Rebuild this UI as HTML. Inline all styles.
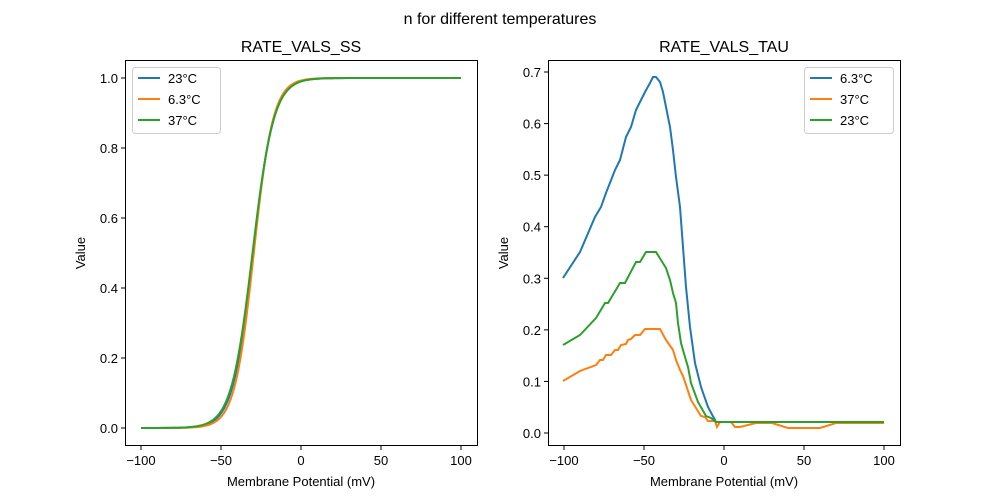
<!DOCTYPE html>
<html><head><meta charset="utf-8"><style>body{margin:0;background:#fff}svg{display:block;font-family:"Liberation Sans","DejaVu Sans",sans-serif}</style></head>
<body>
<svg id="s" width="1000" height="500" viewBox="0 0 1000 500">
<rect width="1000" height="500" fill="#fff"/>
<text x="500" y="24" font-size="16" text-anchor="middle">n for different temperatures</text>
<text x="301" y="52" font-size="16" text-anchor="middle">RATE_VALS_SS</text>
<text x="724" y="52" font-size="16" text-anchor="middle">RATE_VALS_TAU</text>
<g id="L"></g>
<g fill="none" stroke-width="2">
<polyline stroke="#1f77b4" points="563,278 580,252 595,217 601,207 606,193 615,170 620,160 626,137 631,127 636,110 641,100 645,92 650,83 653,77 656,77 660,82 663,92 666,107 670,127 673,150 676,177 680,207 683,247 686,287 690,327 695,363 701,387 708,407 716,422 884,422"/>
<polyline stroke="#ff7f0e" points="563,381 580,371 596,365 600,360 603,360 606,355 611,355 615,350 618,350 621,345 626,344 628,340 631,339 635,335 640,335 645,329 660,329 666,340 673,350 676,360 680,370 683,376 686,385 691,400 696,408 701,416 705,417 708,421 715,421 717,427 720,422 731,422 735,427 740,427 756,423 772,423 788,428 820,428 836,423 884,423"/>
<polyline stroke="#2ca02c" points="563,345 580,335 596,318 605,303 608,303 620,283 625,283 636,262 640,262 646,252 656,252 666,268 670,280 673,293 676,303 678,323 681,343 685,357 688,367 691,383 698,402 706,416 711,418 716,422 884,422"/>
</g>
<g fill="none" stroke="#000" stroke-width="1">
<rect x="125.5" y="60.5" width="352" height="385"/>
<rect x="548.5" y="60.5" width="352" height="385"/>
</g>
<g id="T" font-size="13"></g>
<text x="301" y="486" font-size="13" text-anchor="middle">Membrane Potential (mV)</text>
<text x="724" y="486" font-size="13" text-anchor="middle">Membrane Potential (mV)</text>
<text x="85" y="253" font-size="13" text-anchor="middle" transform="rotate(-90 85 253)">Value</text>
<text x="508" y="253" font-size="13" text-anchor="middle" transform="rotate(-90 508 253)">Value</text>
<g font-size="13">
<rect x="132.5" y="67.5" width="88" height="66" rx="3" fill="#fff" stroke="#ccc"/>
<line x1="138" y1="78" x2="160" y2="78" stroke="#1f77b4" stroke-width="2"/><text x="168" y="83">23°C</text>
<line x1="138" y1="99" x2="160" y2="99" stroke="#ff7f0e" stroke-width="2"/><text x="168" y="104">6.3°C</text>
<line x1="138" y1="120" x2="160" y2="120" stroke="#2ca02c" stroke-width="2"/><text x="168" y="125">37°C</text>
<rect x="804.5" y="67.5" width="89" height="66" rx="3" fill="#fff" stroke="#ccc"/>
<line x1="810" y1="78" x2="832" y2="78" stroke="#1f77b4" stroke-width="2"/><text x="840" y="83">6.3°C</text>
<line x1="810" y1="99" x2="832" y2="99" stroke="#ff7f0e" stroke-width="2"/><text x="840" y="104">37°C</text>
<line x1="810" y1="120" x2="832" y2="120" stroke="#2ca02c" stroke-width="2"/><text x="840" y="125">23°C</text>
</g>
</svg>
<script>
var ns="http://www.w3.org/2000/svg",L=document.getElementById("L"),T=document.getElementById("T");
function el(p,t,a,txt){var e=document.createElementNS(ns,t);for(var k in a)e.setAttribute(k,a[k]);if(txt!=null)e.textContent=txt;p.appendChild(e);return e;}
var cfg=[["#1f77b4",-30,6.4],["#ff7f0e",-29.5,6.0],["#2ca02c",-30.3,6.6]];
cfg.forEach(function(c){var pts=[];for(var v=-100;v<=100;v+=1){var y=1/(1+Math.exp(-(v-c[1])/c[2]));pts.push((301+1.6*v).toFixed(1)+","+(428-350*y).toFixed(1));}
el(L,"polyline",{points:pts.join(" "),fill:"none",stroke:c[0],"stroke-width":2});});
[-100,-50,0,50,100].forEach(function(v){[[301,1.6],[724,1.6]].forEach(function(a){var x=a[0]+a[1]*v;el(T,"line",{x1:x,y1:446,x2:x,y2:450,stroke:"#000"});el(T,"text",{x:x,y:465,"text-anchor":"middle"},v==0?"0":String(v).replace("-","\u2212"));});});
for(var i=0;i<=5;i++){var y=428-350*i*0.2;el(T,"line",{x1:121,y1:y,x2:125,y2:y,stroke:"#000"});el(T,"text",{x:118,y:y+5,"text-anchor":"end"},(i*0.2).toFixed(1));}
for(var i=0;i<=7;i++){var y=433-515.7*i*0.1;el(T,"line",{x1:544,y1:y,x2:548,y2:y,stroke:"#000"});el(T,"text",{x:541,y:y+5,"text-anchor":"end"},(i*0.1).toFixed(1));}
</script>
</body></html>
